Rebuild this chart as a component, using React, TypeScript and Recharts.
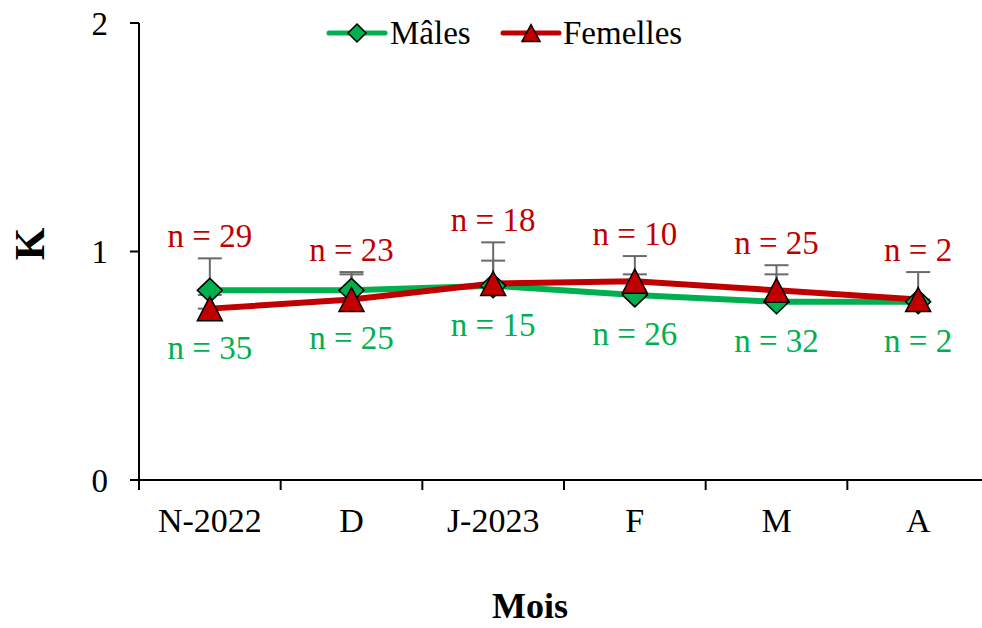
import React from 'react'
import { LineChart, Line, XAxis, YAxis, ErrorBar, LabelList, Legend, Label } from 'recharts'

// --- data ---
const months = ['N-2022', 'D', 'J-2023', 'F', 'M', 'A']
const males = [0.83, 0.83, 0.85, 0.81, 0.78, 0.78]
const females = [0.75, 0.79, 0.86, 0.87, 0.83, 0.79]
const malesSd = [0.14, 0.08, 0.11, 0.09, 0.12, 0.0]
const femalesSd = [0.06, 0.11, 0.18, 0.11, 0.11, 0.12]
const malesN = [35, 25, 15, 26, 32, 2]
const femalesN = [29, 23, 18, 10, 25, 2]
const yTicks = [0, 1, 2]

const GREEN = '#00B050'
const RED = '#C00000'
const ERR = '#6a6a6a'
const FONT = '"Liberation Serif", "Times New Roman", serif'

const CHART_W = 992
const LEFT = 139
const RIGHT = 3
const BAND = (CHART_W - LEFT - RIGHT) / months.length

const data = months.map((m, i) => ({
  month: m,
  males: males[i],
  females: females[i],
  mErr: [0, malesSd[i]],
  fErr: [0, femalesSd[i]],
  // anchors for the n = labels (above the tallest error bar, below the lowest point)
  top: Math.max(males[i] + malesSd[i], females[i] + femalesSd[i]),
  bottom: Math.min(males[i], females[i]),
  mN: malesN[i],
  fN: femalesN[i],
}))

const Diamond = ({ cx, cy, rx = 12.5, ry = 12 }: any) => {
  if (cx == null || cy == null) return null
  return (
    <path
      d={`M${cx},${cy - ry} L${cx + rx},${cy} L${cx},${cy + ry} L${cx - rx},${cy} Z`}
      fill={GREEN}
      stroke="#000"
      strokeWidth={1.5}
    />
  )
}

const Triangle = ({ cx, cy, w = 25, h = 24 }: any) => {
  if (cx == null || cy == null) return null
  return (
    <path
      d={`M${cx},${cy - h / 2} L${cx + w / 2},${cy + h / 2} L${cx - w / 2},${cy + h / 2} Z`}
      fill={RED}
      stroke="#000"
      strokeWidth={1.5}
    />
  )
}

// label at the category centre, tick mark on the left edge of its band
const MonthTick = ({ x, y, payload }: any) => (
  <g>
    <line x1={x - BAND / 2} y1={y - 8} x2={x - BAND / 2} y2={y + 2} stroke="#000" strokeWidth={2} />
    <text x={x} y={y + 32} textAnchor="middle" dominantBaseline="central" fontFamily={FONT} fontSize={34} fill="#000">
      {payload.value}
    </text>
  </g>
)

const TopLabel = ({ x, y, value }: any) => (
  <text x={x} y={y - 22} textAnchor="middle" dominantBaseline="central" fontFamily={FONT} fontSize={33} fill={RED}>
    {`n = ${value}`}
  </text>
)

const BottomLabel = ({ x, y, value }: any) => (
  <text x={x} y={y + 39} textAnchor="middle" dominantBaseline="central" fontFamily={FONT} fontSize={33} fill={GREEN}>
    {`n = ${value}`}
  </text>
)

const LegendBox = () => (
  <svg width={420} height={44} style={{ display: 'block' }}>
    <line x1={19} y1={21} x2={75} y2={21} stroke={GREEN} strokeWidth={5} strokeLinecap="round" />
    <Diamond cx={47} cy={21} rx={9} ry={9} />
    <text x={80} y={21} dominantBaseline="central" fontFamily={FONT} fontSize={33} fill="#000">Mâles</text>
    <line x1={193} y1={21} x2={249} y2={21} stroke={RED} strokeWidth={5} strokeLinecap="round" />
    <Triangle cx={221} cy={21} w={18} h={17} />
    <text x={253} y={21} dominantBaseline="central" fontFamily={FONT} fontSize={33} fill="#000">Femelles</text>
  </svg>
)

export default function App() {
  return (
    <div style={{ position: 'absolute', left: 0, top: 0, width: 982, height: 628, overflow: 'hidden', background: '#fff' }}>
      <LineChart width={CHART_W} height={628} data={data} margin={{ top: 23, right: RIGHT, left: 0, bottom: 0 }}>
        <XAxis
          dataKey="month"
          height={148}
          padding={{ left: BAND / 2, right: BAND / 2 }}
          axisLine={{ stroke: '#000', strokeWidth: 2 }}
          tickLine={false}
          tick={<MonthTick />}
          interval={0}
        >
          <Label
            content={() => (
              <text x={530} y={606} textAnchor="middle" dominantBaseline="central" fontFamily={FONT} fontSize={36} fontWeight="bold" fill="#000">
                Mois
              </text>
            )}
          />
        </XAxis>
        <YAxis
          width={LEFT}
          domain={[0, 2]}
          ticks={yTicks}
          axisLine={{ stroke: '#000', strokeWidth: 2 }}
          tickLine={{ stroke: '#000', strokeWidth: 2 }}
          tickSize={9}
          tickMargin={22}
          tick={{ fill: '#000', fontSize: 33, fontFamily: FONT }}
        >
          <Label
            content={() => (
              <text x={30} y={244} textAnchor="middle" dominantBaseline="central" transform="rotate(-90 30 244)" fontFamily={FONT} fontSize={42} fontWeight="bold" fill="#000">
                K
              </text>
            )}
          />
        </YAxis>
        <Legend verticalAlign="middle" align="center" wrapperStyle={{ top: 12, left: 310, width: 420 }} content={<LegendBox />} />
        <Line dataKey="males" stroke={GREEN} strokeWidth={6} dot={<Diamond />} activeDot={false} isAnimationActive={false}>
          <ErrorBar dataKey="mErr" direction="y" width={12} stroke={ERR} strokeWidth={2} />
        </Line>
        <Line dataKey="females" stroke={RED} strokeWidth={6} dot={<Triangle />} activeDot={false} isAnimationActive={false}>
          <ErrorBar dataKey="fErr" direction="y" width={12} stroke={ERR} strokeWidth={2} />
        </Line>
        <Line dataKey="top" stroke="none" dot={false} activeDot={false} legendType="none" isAnimationActive={false}>
          <LabelList dataKey="fN" content={<TopLabel />} />
        </Line>
        <Line dataKey="bottom" stroke="none" dot={false} activeDot={false} legendType="none" isAnimationActive={false}>
          <LabelList dataKey="mN" content={<BottomLabel />} />
        </Line>
      </LineChart>
    </div>
  )
}
